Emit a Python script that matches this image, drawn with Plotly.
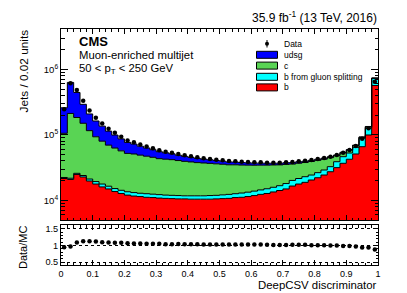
import numpy as np
import plotly.graph_objects as go

# ---------------- data (50 bins of width 0.02) ----------------
bin_edges = np.round(np.linspace(0.0, 1.0, 51), 2)

b = [21500, 20800, 24800, 22700, 19700, 17700, 16000, 14900, 13600, 12700,
     12000, 11600, 11400, 11100, 11000, 10800, 10700, 10600, 10500, 10500,
     10400, 10400, 10400, 10400, 10500, 10600, 10700, 11000, 11100, 11400,
     11800, 12300, 12700, 13400, 14100, 14900, 16500, 17700, 18800, 20400,
     22100, 24300, 27300, 31500, 36700, 42300, 50900, 65800, 99300, 566000]

b_gluon = [800, 900, 1000, 1200, 1400, 1600, 1700, 1500, 1500, 1500,
           1500, 1500, 1400, 1500, 1400, 1400, 1300, 1300, 1300, 1200,
           1300, 1300, 1300, 1400, 1400, 1500, 1600, 1600, 1800, 1900,
           2000, 2100, 2300, 2400, 2600, 3100, 3600, 3800, 4100, 3900,
           4300, 4700, 5300, 7300, 9600, 10400, 13500, 22700, 26700, 163000]

c = [83000, 190000, 158000, 126000, 94500, 73900, 62200, 53100, 47600, 42600,
     38500, 37800, 36100, 34500, 32900, 31000, 30400, 29800, 28600, 27600,
     26800, 25900, 25400, 24800, 24100, 23400, 22500, 22200, 21600, 21100,
     20500, 20000, 19400, 18800, 18000, 17300, 15600, 15300, 14800, 14800,
     14300, 13400, 12200, 9000, 6500, 5500, 4000, 3000, 6000, 3500]

udsg = [152700, 418000, 259000, 142000, 92400, 69200, 55600, 44300, 36400, 29800,
        24600, 21400, 18200, 15900, 13900, 12000, 10700, 9590, 8460, 7530,
        6730, 5970, 5440, 4940, 4460, 4080, 3740, 3490, 3170, 2910,
        2620, 2510, 2390, 2240, 2130, 2050, 1920, 1850, 1780, 1670,
        1610, 1540, 1440, 1380, 1290, 1260, 1180, 1280, 1900, 2500]

data = [245000, 611000, 483000, 330000, 235000, 182000, 149000, 124000, 107000, 93500,
        82000, 76700, 71100, 66200, 62200, 58000, 55200, 53300, 50900, 48700,
        47000, 45300, 43800, 42700, 41700, 40800, 39800, 39400, 38800, 38400,
        38000, 38000, 37500, 37500, 37500, 38000, 38400, 39400, 40300, 41200,
        42700, 44300, 46300, 49200, 53300, 58600, 67500, 87100, 126000, 647000]

x_tick_vals = [0, 0.1, 0.2, 0.3, 0.4, 0.5, 0.6, 0.7, 0.8, 0.9, 1.0]
x_tick_text = ["0", "0.1", "0.2", "0.3", "0.4", "0.5", "0.6", "0.7", "0.8", "0.9", "1"]
y_tick_vals = [1e4, 1e5, 1e6]
y_tick_text = ["10<sup>4</sup>", "10<sup>5</sup>", "10<sup>6</sup>"]
r_tick_vals = [0.5, 1.0, 1.5]
r_tick_text = ["0.5", "1", "1.5"]

# ---------------- geometry helpers ----------------
# the page body has an 8 px margin, so the figure is offset by (8, 8) in the window
OFF = 8
W, H = 407 - OFF, 293 - OFF
ML, MR, MT, MB = 61 - OFF, 29, 29 - OFF, 28
PW, PH = W - ML - MR, H - MT - MB


def px(x):
    """window pixel x -> paper fraction"""
    return (x - OFF - ML) / PW


def py(y):
    """window pixel y -> paper fraction"""
    return (H + OFF - MB - y) / PH


FONT = "Liberation Sans, Arial, Helvetica, sans-serif"
FLOOR = 1.0

centers = (bin_edges[:-1] + bin_edges[1:]) / 2

fig = go.Figure()

# baseline for the stack
fig.add_trace(go.Scatter(x=bin_edges, y=np.full(len(bin_edges), FLOOR), mode="lines",
                         line=dict(width=0, shape="hv"), xaxis="x2", yaxis="y2",
                         showlegend=False, hoverinfo="skip"))

layers = [("b", b, "#ff0000"),
          ("b from gluon splitting", b_gluon, "#00ffff"),
          ("c", c, "#59d454"),
          ("udsg", udsg, "#0000ff")]
cum = np.zeros(len(b))
for name, vals, col in layers:
    cum = cum + np.array(vals, dtype=float)
    yy = np.append(cum, cum[-1])
    fig.add_trace(go.Scatter(x=bin_edges, y=yy, mode="lines",
                             line=dict(color="black", width=1, shape="hv"),
                             fill="tonexty", fillcolor=col, name=name,
                             xaxis="x2", yaxis="y2", showlegend=False))

total = cum
data_arr = np.array(data, dtype=float)
fig.add_trace(go.Scatter(x=centers, y=data_arr, mode="markers",
                         marker=dict(color="black", size=4.5),
                         error_y=dict(type="data", array=np.sqrt(data_arr), color="black",
                                      thickness=1, width=0),
                         name="Data", xaxis="x2", yaxis="y2", showlegend=False))

ratio = data_arr / total
fig.add_trace(go.Scatter(x=centers, y=ratio, mode="markers",
                         marker=dict(color="black", size=4.5),
                         name="Data/MC", xaxis="x", yaxis="y", showlegend=False))

axis_common = dict(showline=True, linecolor="black", linewidth=1, mirror="ticks",
                   ticks="inside", tickcolor="black", tickwidth=1, zeroline=False,
                   automargin=False)

fig.update_layout(
    width=W, height=H,
    margin=dict(l=ML, r=MR, t=MT, b=MB, autoexpand=False),
    paper_bgcolor="white", plot_bgcolor="white",
    font=dict(family=FONT, color="black", size=9.2),
    showlegend=False,
    xaxis=dict(domain=[0, 1], anchor="y", range=[0, 1], tickmode="array",
               tickvals=x_tick_vals, ticktext=x_tick_text, ticklen=5,
               tickfont=dict(size=9), showgrid=False,
               minor=dict(dtick=0.02, ticklen=2.5, ticks="inside", tickcolor="black"),
               **axis_common),
    yaxis=dict(domain=[0, 40 / PH], anchor="x", range=[0.41, 1.62], tickmode="array",
               tickvals=r_tick_vals, ticktext=r_tick_text, ticklen=4,
               tickfont=dict(size=9.2),
               showgrid=True, gridcolor="black", gridwidth=1, griddash="dot",
               minor=dict(dtick=0.1, ticklen=2, ticks="inside", tickcolor="black"),
               **axis_common),
    xaxis2=dict(domain=[0, 1], anchor="y2", matches="x", range=[0, 1], tickmode="array",
                tickvals=x_tick_vals, showticklabels=False, ticklen=5, showgrid=False,
                minor=dict(dtick=0.02, ticklen=2.5, ticks="inside", tickcolor="black"),
                **axis_common),
    yaxis2=dict(domain=[45 / PH, 1], anchor="x2", type="log",
                range=[np.log10(5000), 6.615], tickmode="array",
                tickvals=y_tick_vals, ticktext=y_tick_text, ticklen=7,
                tickfont=dict(size=9.5), showgrid=False,
                minor=dict(tickmode="array",
                           tickvals=[k * 10 ** e for e in range(3, 7) for k in range(2, 10)],
                           ticklen=3.5, ticks="inside", tickcolor="black"),
                **axis_common),
)

ann = []
ann.append(dict(text="<b>CMS</b>", x=px(77), y=py(41.7), xanchor="left", yanchor="middle",
                font=dict(size=13)))
ann.append(dict(text="Muon-enriched multijet", x=px(77), y=py(54.7), xanchor="left",
                yanchor="middle", font=dict(size=11.3)))
ann.append(dict(text="50 &lt; p<sub>T</sub> &lt; 250 GeV", x=px(77), y=py(68.5), xanchor="left",
                yanchor="middle", font=dict(size=11.3)))
ann.append(dict(text="35.9 fb<sup>-1</sup> (13 TeV, 2016)", x=px(378.5), y=py(17), xanchor="right",
                yanchor="middle", font=dict(size=12)))
ann.append(dict(text="Jets / 0.02 units", textangle=-90, x=px(23), y=py(28), xanchor="center",
                yanchor="top", font=dict(size=11.8)))
ann.append(dict(text="Data/MC", textangle=-90, x=px(23), y=py(248), xanchor="center",
                yanchor="middle", font=dict(size=11)))
ann.append(dict(text="DeepCSV discriminator", x=px(378.5), y=py(292.5), xanchor="right",
                yanchor="bottom", font=dict(size=11.4)))

# legend (manual, ROOT style)
leg_rows = [("Data", None, 43.7), ("udsg", "#0000ff", 54.8), ("c", "#59d454", 65.6),
            ("b from gluon splitting", "#00ffff", 76.8), ("b", "#ff0000", 87.4)]
shapes = []
for label, col, yc in leg_rows:
    ann.append(dict(text=label, x=px(282), y=py(yc), xanchor="left", yanchor="middle",
                    font=dict(size=8.5)))
    if col is None:
        shapes.append(dict(type="line", xref="paper", yref="paper", x0=px(267), x1=px(267),
                           y0=py(40), y1=py(47.5), line=dict(color="black", width=1)))
        shapes.append(dict(type="circle", xref="paper", yref="paper", x0=px(265), x1=px(269),
                           y0=py(45.7), y1=py(41.7), fillcolor="black", line=dict(width=0)))
    else:
        shapes.append(dict(type="rect", xref="paper", yref="paper", x0=px(256.5), x1=px(277.5),
                           y0=py(yc + 3.5), y1=py(yc - 3.5), fillcolor=col,
                           line=dict(color="black", width=1)))

for a in ann:
    a.update(xref="paper", yref="paper", showarrow=False)
fig.update_layout(annotations=ann, shapes=shapes)

fig.write_html("out.html")
